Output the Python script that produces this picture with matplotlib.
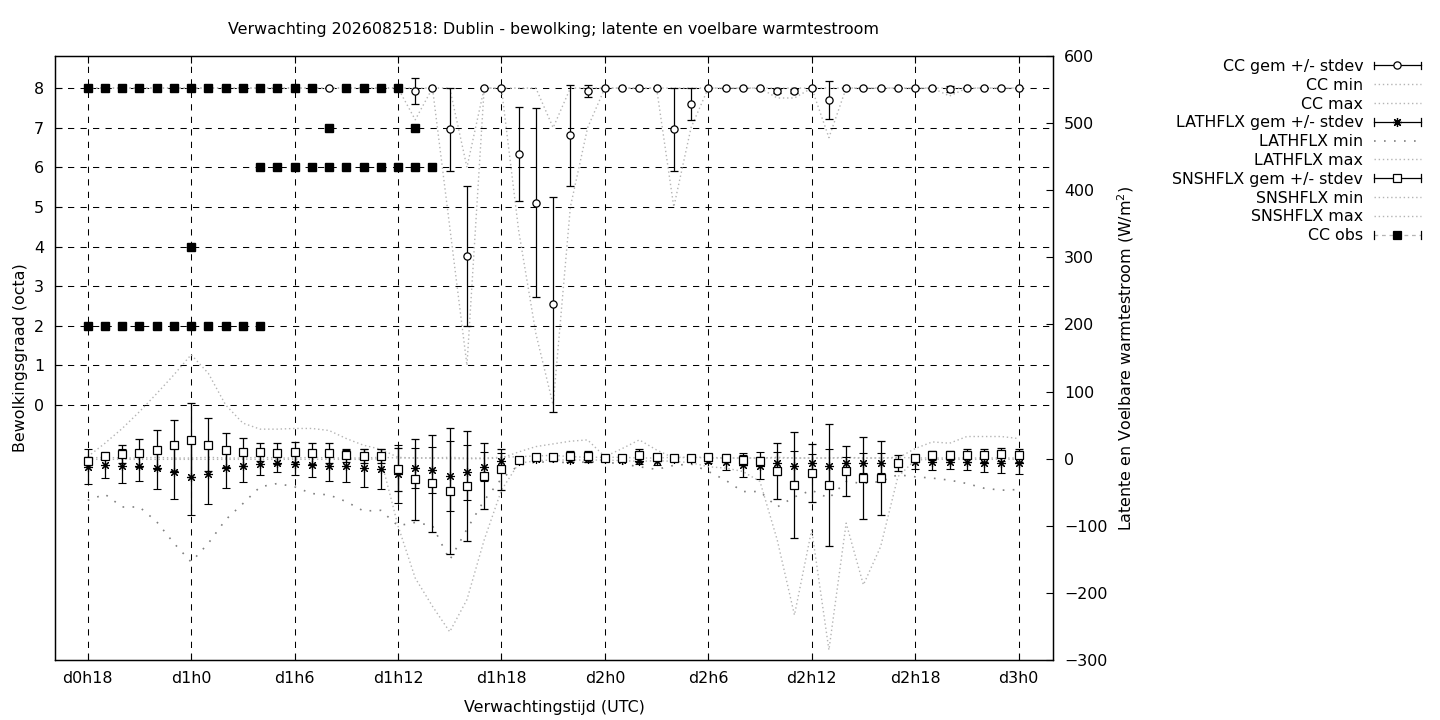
import numpy as np
import matplotlib
matplotlib.use("Agg")
import matplotlib.pyplot as plt
from matplotlib.lines import Line2D
from matplotlib.legend_handler import HandlerBase

# forecast hours since d0h0 (one value per hour, d0h18 .. d3h0)
hours = list(range(18, 73))

# cloud cover (octa)
cc_gem = [8, 8, 8, 8, 8, 8, 8, 8, 8, 8, 8, 8, 8, 8, 8, 8, 8, 8, 8, 7.92, 8, 6.96, 3.76, 8,
          8, 6.33, 5.11, 2.54, 6.81, 7.92, 8, 8, 8, 8, 6.96, 7.59, 8, 8, 8, 8, 7.92, 7.92,
          8, 7.69, 8, 8, 8, 8, 8, 8, 7.97, 8, 8, 8, 8]
cc_sd = [0, 0, 0, 0, 0, 0, 0, 0, 0, 0, 0, 0, 0, 0, 0, 0, 0, 0, 0, 0.33, 0, 1.04, 1.76, 0,
         0, 1.19, 2.39, 2.72, 1.28, 0.15, 0, 0, 0, 0, 1.04, 0.4, 0, 0, 0, 0, 0.05, 0.05,
         0, 0.48, 0, 0, 0, 0, 0, 0, 0.08, 0, 0, 0, 0]
cc_min = [8, 8, 8, 8, 8, 8, 8, 8, 8, 8, 8, 8, 8, 8, 8, 8, 8, 8, 8, 7.2, 8, 4.5, 1, 8,
          8, 4.4, 1.8, 0, 5, 7, 8, 8, 8, 8, 5, 7, 8, 8, 8, 8, 7.75, 7.75,
          8, 6.75, 8, 8, 8, 8, 8, 8, 7.8, 8, 8, 8, 8]
cc_max = [8, 8, 8, 8, 8, 8, 8, 8, 8, 8, 8, 8, 8, 8, 8, 8, 8, 8, 8, 8, 8, 8, 6, 8,
          8, 8, 8, 7, 8, 8, 8, 8, 8, 8, 8, 8, 8, 8, 8, 8, 8, 8,
          8, 8, 8, 8, 8, 8, 8, 8, 8, 8, 8, 8, 8]

# observed cloud cover (several stations per hour)
obs_hour = ([18, 19, 20, 21, 22, 23, 24, 25, 26, 27, 28, 29, 30, 31, 33, 34, 35, 36]
            + [32, 37]
            + [28, 29, 30, 31, 32, 33, 34, 35, 36, 37, 38]
            + [24]
            + [18, 19, 20, 21, 22, 23, 24, 25, 26, 27, 28])
obs_cc = ([8] * 18 + [7, 7] + [6] * 11 + [4] + [2] * 11)

# latent heat flux (W/m2)
lat_gem = [-12, -9.5, -11, -11, -14.5, -20, -28, -23, -13.5, -11, -8, -7, -8, -9.5, -10.5,
           -11, -14, -15.5, -23, -14, -17, -26, -20, -12, -4, -3, 0, 1, -2, -1, 0, -1.5,
           -3.5, -4, 0, 0, -3.5, -4.5, -9.5, -10.5, -7, -11, -7, -11, -7, -7, -7, -7,
           -4.5, -4.5, -4.5, -4.5, -6, -6, -6]
lat_sd = [26, 19, 26, 23, 31, 40, 56, 45, 30, 24, 16, 13, 17, 18, 23, 24, 28, 30, 43, 30,
          34, 52, 41, 22, 12, 3, 2, 2, 3, 4, 2, 3, 4, 5, 2, 2, 3, 12, 18, 20, 17, 22, 14,
          25, 10, 15, 15, 5, 11, 12, 11, 12, 14, 15, 17]
lat_min = [-62, -53, -72, -72, -94, -126, -154, -126, -91, -67, -42, -37, -42, -52, -54,
           -64, -78, -77, -100, -95, -100, -151, -105, -62, -30, -10, -5, -5, -6, -5, -5,
           -8, -12, -16, -10, -8, -19, -32, -49, -49, -72, -57, -47, -59, -34, -37, -34,
           -24, -27, -29, -32, -37, -44, -47, -46]
lat_max = [1, 2, 1, 1, 2, 1, 1, 2, 1, 1, 2, 1, 1, 2, 1, 1, 1, 2, 1, 1, 1, 2, 1, 1, 2, 3,
           4, 5, 3, 2, 2, 2, 1, 1, 2, 2, 1, 1, 1, 1, 2, 1, 1, 1, 2, 1, 1, 2, 1, 1, 1, 1,
           1, 1, 1]

# sensible heat flux (W/m2)
sns_gem = [-3.5, 4, 7, 8, 13, 20, 28, 21, 13, 9.5, 10, 8, 9.5, 8, 8, 5, 4, 4, -16, -31,
           -37, -48, -41, -26, -16, -2.5, 2, 2, 4.5, 3.5, 1.5, 1, 5, 3, 1.5, 1.5, 2, 0.5,
           -2, -4, -18, -39, -21, -39, -18, -29, -29, -7, 0.5, 5, 5, 5, 5, 6.5, 5]
sns_sd = [6, 5, 13, 21, 29, 38, 55, 40, 25, 21, 14, 16, 15, 16, 15, 10, 10, 10, 32, 61,
          73, 94, 82, 49, 30, 2, 3, 5, 7, 8, 2, 2, 10, 4, 2, 2, 2, 4, 8, 6, 42, 79, 43,
          91, 37, 61, 55, 12, 3, 7, 7, 10, 10, 10, 10]
sns_min = [-1, -1, -1, -1, -1, -1, -1, -1, -1, -1, -1, -1, -1, -1, -1, -1, -1, 0, -100,
           -178, -220, -258, -210, -121, -47, -7, -3, -2, -2, -2, -2, -3, -4, -3, -4, -6,
           -12, -14, -19, -34, -121, -233, -106, -285, -96, -188, -131, -27, -2, -1, -1,
           -1, -1, -1, -1]
sns_max = [3, 23, 45, 70, 97, 125, 155, 127, 80, 53, 44, 44, 45, 45, 42, 30, 20, 14, 2, 1,
           1, 0, 0, 0, 1, 10, 18, 22, 26, 28, 3, 15, 28, 13, 1, 2, 2, 1, 1, 1, 1, 1, 1, 1,
           1, 1, 1, 1, 15, 25, 23, 33, 33, 33, 30]

tick_hours = [18, 24, 30, 36, 42, 48, 54, 60, 66, 72]
tick_labels = ["d0h18", "d1h0", "d1h6", "d1h12", "d1h18", "d2h0", "d2h6", "d2h12",
               "d2h18", "d3h0"]

FS = 11.4
GREY = "#b4b4b4"
STAR = (8, 2, 0)
plt.rcParams["font.family"] = ["DejaVu Sans"]
plt.rcParams["font.size"] = FS

fig = plt.figure(figsize=(14.4, 7.2), dpi=100)
ax = fig.add_axes([55 / 1440, 60 / 720, 998 / 1440, 604 / 720])
ax2 = ax.twinx()

bar_kw = dict(ecolor="black", elinewidth=0.9, capsize=2.9, capthick=0.9, linestyle="none")

# cloud cover
ax.errorbar(hours, cc_gem, yerr=cc_sd, fmt="o", ms=5.2, mfc="white", mec="black",
            mew=0.9, zorder=3, **bar_kw)
ax.plot(hours, cc_min, color=GREY, lw=1, ls=(0, (1, 2)), zorder=2)
ax.plot(hours, cc_max, color=GREY, lw=1, ls=(0, (1, 2)), zorder=2)
ax.plot(obs_hour, obs_cc, "s", ms=5.8, color="black", zorder=4)

# heat fluxes
ax2.errorbar(hours, lat_gem, yerr=lat_sd, fmt="", marker=STAR, ms=6.5, color="black",
             mew=0.8, zorder=3, **bar_kw)
ax2.plot(hours, lat_min, color="#808080", lw=1.2, ls=(0, (1, 5)), zorder=2)
ax2.plot(hours, lat_max, color=GREY, lw=1, ls=(0, (1, 2)), zorder=2)
ax2.errorbar(hours, sns_gem, yerr=sns_sd, fmt="s", ms=5.8, mfc="white", mec="black",
             mew=0.9, zorder=4, **bar_kw)
ax2.plot(hours, sns_min, color=GREY, lw=1, ls=(0, (1, 2)), zorder=2)
ax2.plot(hours, sns_max, color=GREY, lw=1, ls=(0, (1, 2)), zorder=2)

# axes
ax.set_xlim(16.1, 74.0)
ax.set_ylim(-6.435, 8.81)
ax2.set_ylim(-300, 600)
ax.set_xticks(tick_hours)
ax.set_xticklabels(tick_labels)
ax.set_yticks(range(0, 9))
ax2.set_yticks(range(-300, 601, 100))
ax.tick_params(axis="x", direction="in", top=True, bottom=True, length=5, pad=8)
ax.tick_params(axis="y", direction="in", left=True, right=False, length=5, pad=8)
ax2.tick_params(axis="y", direction="in", right=True, length=5, pad=8)
ax.grid(True, color="black", lw=0.75, ls=(0, (6, 6)))
ax.set_axisbelow(True)
for a in (ax, ax2):
    for s in a.spines.values():
        s.set_linewidth(0.9)

ax.set_title("Verwachting 2026082518: Dublin - bewolking; latente en voelbare warmtestroom",
             fontsize=FS, pad=16)
ax.set_xlabel("Verwachtingstijd (UTC)", labelpad=10)
ax.set_ylabel("Bewolkingsgraad (octa)", labelpad=4.5)
ax2.set_ylabel("Latente en Voelbare warmtestroom (W/m$^2$)", labelpad=5.5)


class BarHandler(HandlerBase):
    def __init__(self, marker, mfc, ms, ls="-", lc="black"):
        super().__init__()
        self.marker, self.mfc, self.ms, self.ls, self.lc = marker, mfc, ms, ls, lc

    def create_artists(self, legend, orig_handle, xdescent, ydescent, width, height,
                       fontsize, trans):
        y = (height - ydescent) / 2
        x0, x1 = -xdescent, width - xdescent
        cap = height * 0.35
        arts = [Line2D([x0, x1], [y, y], color=self.lc, lw=0.9, ls=self.ls),
                Line2D([x0, x0], [y - cap, y + cap], color="black", lw=0.9),
                Line2D([x1, x1], [y - cap, y + cap], color="black", lw=0.9),
                Line2D([(x0 + x1) / 2], [y], marker=self.marker, ms=self.ms,
                       mfc=self.mfc, mec="black", color="black", mew=0.9, ls="none")]
        for a in arts:
            a.set_transform(trans)
        return arts


h_cc = Line2D([], [])
h_lat = Line2D([], [])
h_sns = Line2D([], [])
h_obs = Line2D([], [])
dot_grey = Line2D([], [], color=GREY, lw=1, ls=(0, (1, 2)))
dot_dark = Line2D([], [], color="#808080", lw=1.2, ls=(0, (1, 5)))

handles = [h_cc, dot_grey, dot_grey, h_lat, dot_dark, dot_grey, h_sns, dot_grey,
           dot_grey, h_obs]
labels = ["CC gem +/- stdev", "CC min", "CC max", "LATHFLX gem +/- stdev", "LATHFLX min",
          "LATHFLX max", "SNSHFLX gem +/- stdev", "SNSHFLX min", "SNSHFLX max", "CC obs"]
fig.legend(handles, labels, loc="upper right", bbox_to_anchor=(1421 / 1440, 1 - 59 / 720),
           frameon=False, markerfirst=False, handlelength=3.0, handletextpad=0.65,
           labelspacing=0.24, borderpad=0, borderaxespad=0,
           handler_map={h_cc: BarHandler("o", "white", 5.2),
                        h_lat: BarHandler(STAR, "black", 6.5),
                        h_sns: BarHandler("s", "white", 5.8),
                        h_obs: BarHandler("s", "black", 5.8, ls=(0, (3, 3)), lc=GREY)})

fig.savefig("out.png", dpi=100)
